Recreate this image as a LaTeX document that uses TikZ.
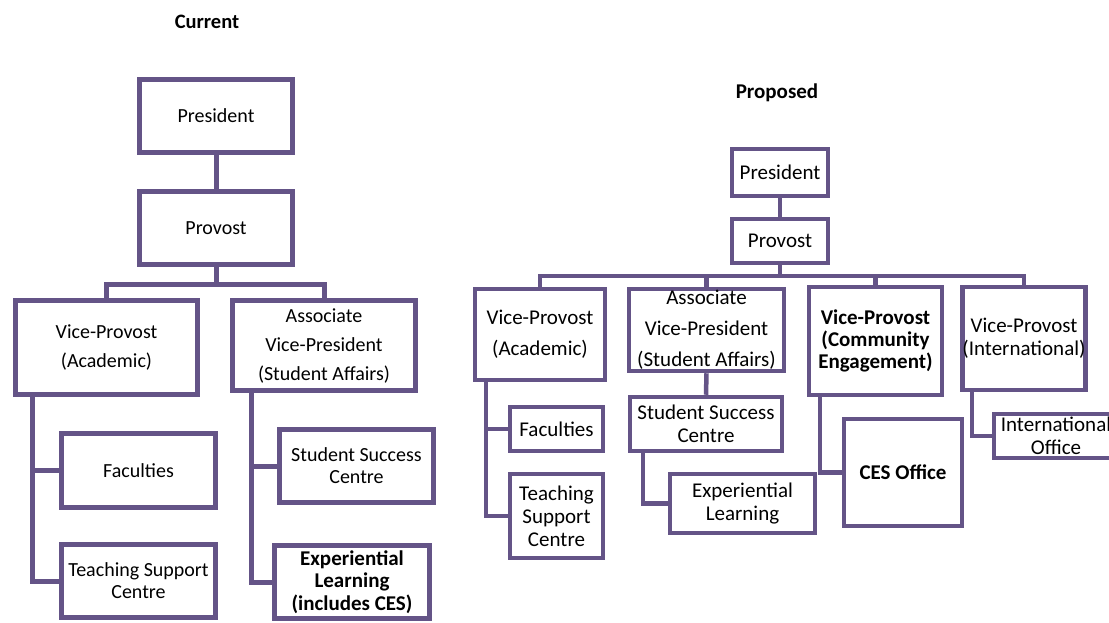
\documentclass[tikz,border=0pt]{standalone}
\usepackage{fontspec}
\setmainfont{Carlito}
\definecolor{orgline}{RGB}{100,84,135}
\begin{document}
\begin{tikzpicture}[x=1pt,y=-1pt,
  box/.style={draw=orgline, fill=white, align=center, inner sep=0pt},
  cur/.style={box, line width=5pt, font=\fontsize{20}{22}\selectfont},
  curwide/.style={cur, font=\fontsize{20}{29}\selectfont},
  curbold/.style={cur, font=\bfseries\fontsize{21}{22.5}\selectfont},
  prop/.style={box, line width=4.5pt, font=\fontsize{21}{23}\selectfont},
  propwide/.style={prop, font=\fontsize{21}{31}\selectfont},
  propbold/.style={prop, font=\bfseries\fontsize{21}{22}\selectfont},
  clink/.style={draw=orgline, line width=5pt, line join=miter},
  plink/.style={draw=orgline, line width=4.5pt, line join=miter},
  heading/.style={font=\bfseries\fontsize{20.5}{24}\selectfont}
]
\useasboundingbox (0,0) rectangle (1109,622);
\fill[white] (0,0) rectangle (1109,622);
\clip (0,0) rectangle (1109,622);

% ---------------- Current structure ----------------
\node[heading] (curTitle) at (207,22) {Current};

\node[cur, minimum width=153pt, minimum height=73pt] (cPres) at (216,116) {President};
\node[cur, minimum width=153pt, minimum height=73pt] (cProv) at (216,228) {Provost};
\node[curwide, minimum width=182pt, minimum height=94pt] (cVPA) at (106.5,347.5) {Vice-Provost\\(Academic)};
\node[curwide, minimum width=183pt, minimum height=90pt] (cAVP) at (324,345.5) {Associate\\Vice-President\\(Student Affairs)};
\node[cur, minimum width=154pt, minimum height=74pt] (cFac) at (138.5,470.5) {Faculties};
\node[cur, minimum width=154pt, minimum height=73pt] (cTSC) at (138.5,581) {Teaching Support\\Centre};
\node[cur, minimum width=154pt, minimum height=73pt] (cSSC) at (356.5,466) {Student Success\\Centre};
\node[curbold, minimum width=155pt, minimum height=73pt] (cEL) at (352,582) {Experiential\\Learning\\(includes CES)};

\coordinate (cBus) at (216,284);
\draw[clink] (cPres.south) -- (cProv.north);
\draw[clink] (cProv.south) -- (cBus);
\draw[clink] (cVPA.north) |- (cBus) -| (cAVP.north);
\draw[clink] ([xshift=19pt]cVPA.south west) |- (cTSC.west);
\draw[clink] ([xshift=19pt]cVPA.south west |- cFac.west) -- (cFac.west);
\draw[clink] ([xshift=21pt]cAVP.south west) |- (cEL.west);
\draw[clink] ([xshift=21pt]cAVP.south west |- cSSC.west) -- (cSSC.west);

% ---------------- Proposed structure ----------------
\node[heading, font=\bfseries\fontsize{21}{24}\selectfont] (propTitle) at (777,93) {Proposed};

\node[prop, minimum width=96pt, minimum height=47pt] (pPres) at (780,172.5) {President};
\node[prop, minimum width=96pt, minimum height=44pt] (pProv) at (780,241) {Provost};
\node[propwide, minimum width=130pt, minimum height=91pt] (pVPA) at (540,334.5) {Vice-Provost\\(Academic)};
\node[propwide, minimum width=155pt, minimum height=82pt] (pAVP) at (706.5,330) {Associate\\Vice-President\\(Student Affairs)};
\node[propbold, minimum width=133pt, minimum height=108pt] (pVPCE) at (875.5,341) {Vice-Provost\\(Community\\Engagement)};
\node[prop, minimum width=120pt, minimum height=103pt] (pVPI) at (1024,338.5) {Vice-Provost\\(International)};
\node[prop, minimum width=93pt, minimum height=44pt] (pFac) at (556.5,429) {Faculties};
\node[prop, minimum width=93pt, minimum height=84pt] (pTSC) at (556.5,516) {Teaching\\Support\\Centre};
\node[prop, minimum width=152pt, minimum height=54pt] (pSSC) at (706,424) {Student Success\\Centre};
\node[prop, minimum width=145pt, minimum height=59pt] (pEL) at (742.5,503.5) {Experiential\\Learning};
\node[propbold, minimum width=118pt, minimum height=107pt] (pCES) at (903,472.5) {CES Office};
\node[prop, minimum width=124pt, minimum height=44pt] (pIO) at (1056,436) {International\\Office};

\coordinate (pBus) at (780,276);
\draw[plink] (pPres.south) -- (pProv.north);
\draw[plink] (pProv.south) -- (pBus);
\draw[plink] (pVPA.north) |- (pBus) -| (pVPI.north);
\draw[plink] (pAVP.north) -- (pAVP.north |- pBus);
\draw[plink] (pVPCE.north) -- (pVPCE.north |- pBus);
\draw[plink] ([xshift=13pt]pVPA.south west) |- (pTSC.west);
\draw[plink] ([xshift=13pt]pVPA.south west |- pFac.west) -- (pFac.west);
\draw[plink] (pAVP.south) -- (pSSC.north);
\draw[plink] ([xshift=15pt]pSSC.south west) |- (pEL.west);
\draw[plink] ([xshift=13pt]pVPCE.south west) |- (pCES.west);
\draw[plink] ([xshift=12pt]pVPI.south west) |- (pIO.west);
\end{tikzpicture}
\end{document}
